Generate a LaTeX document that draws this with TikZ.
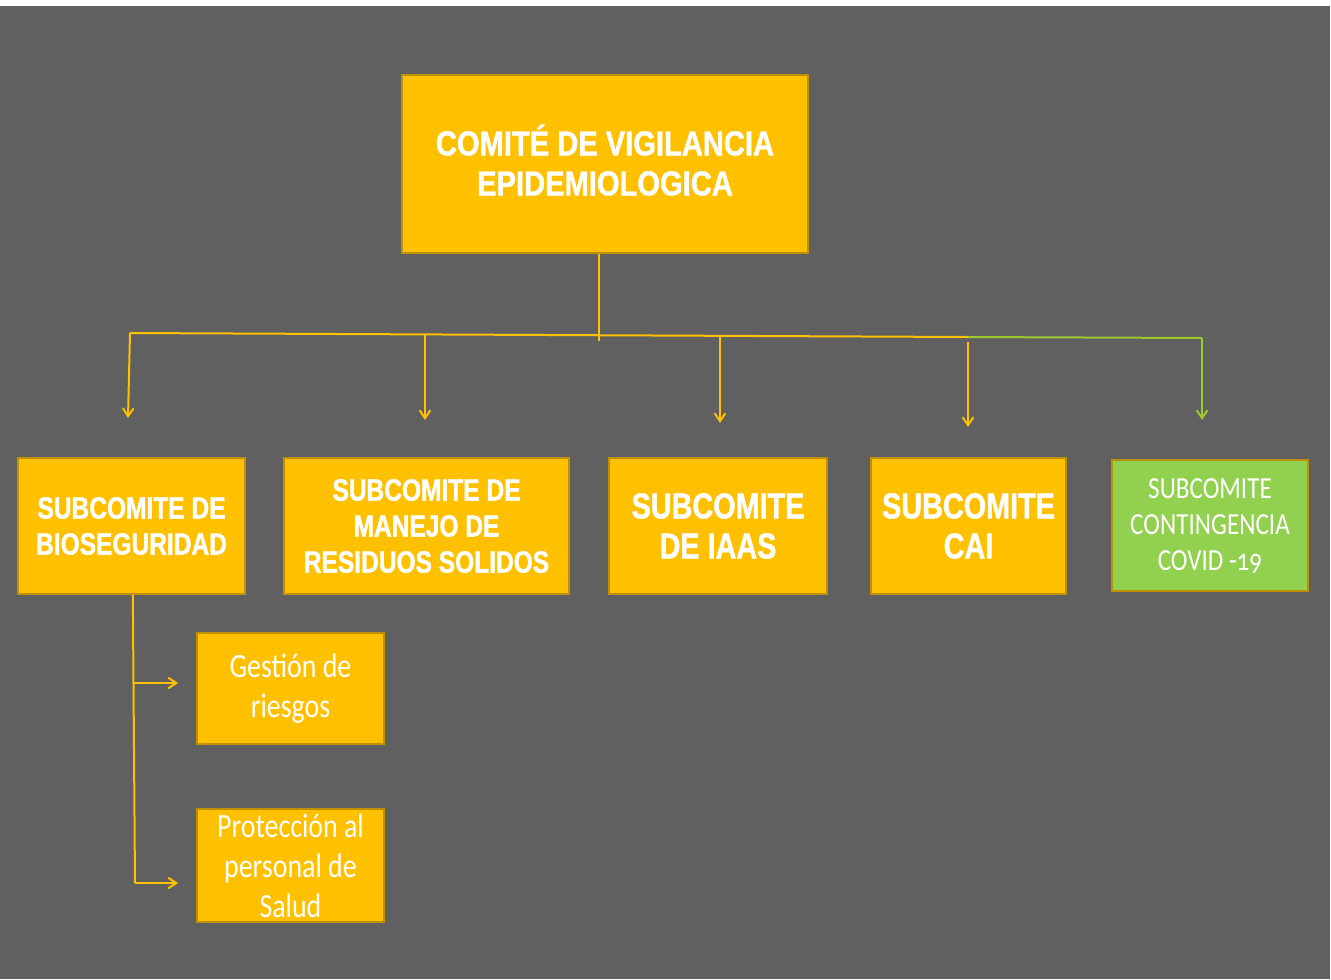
\documentclass[tikz,border=0pt]{standalone}
\usepackage{fontspec}
\usetikzlibrary{arrows.meta}
\newfontfamily\headfont[FakeStretch=0.84,BoldFeatures={FakeBold=1.2}]{Liberation Sans}
\newfontfamily\headfontn[FakeStretch=0.80,BoldFeatures={FakeBold=1.2}]{Liberation Sans}
\newfontfamily\lightfont[FakeStretch=0.82]{Carlito}
\newfontfamily\lightfontos[FakeStretch=0.82,Numbers=OldStyle]{Carlito}
\definecolor{bg}{HTML}{606060}
\definecolor{gold}{HTML}{FFC000}
\definecolor{goldedge}{HTML}{BF9000}
\definecolor{lgreen}{HTML}{92D050}
\definecolor{lineg}{HTML}{9BC92E}
\tikzset{
  box/.style={draw=goldedge, line width=1.1pt, fill=gold, text=white, align=center, inner sep=0pt},
  gbox/.style={box, fill=lgreen},
  conn/.style={gold, line width=1.5pt},
  gconn/.style={lineg, line width=1.5pt},
  arr/.style={-{Straight Barb[length=6pt,width=8pt,line width=1.5pt]}},
}
\begin{document}
\begin{tikzpicture}[x=0.75pt,y=-0.75pt]
\useasboundingbox (0,0) rectangle (1331,979);
\fill[white] (0,0) rectangle (1331,979);
\fill[bg] (0,6) rectangle (1330,979);

% nodes
\node[box, minimum width=304.5pt, minimum height=133.5pt,
      font={\headfont\bfseries\fontsize{26}{30}\selectfont}] (main) at (605,164)
      {COMITÉ DE VIGILANCIA\\EPIDEMIOLOGICA\\[-24pt]\mbox{}};
\node[box, minimum width=170.25pt, minimum height=102pt,
      font={\headfontn\bfseries\fontsize{23}{27}\selectfont}] (s1) at (131.5,526)
      {SUBCOMITE DE\\BIOSEGURIDAD};
\node[box, minimum width=213.75pt, minimum height=102pt,
      font={\headfontn\bfseries\fontsize{23}{27}\selectfont}] (s2) at (426.5,526)
      {SUBCOMITE DE\\MANEJO DE\\RESIDUOS SOLIDOS};
\node[box, minimum width=163.5pt, minimum height=102pt,
      font={\headfontn\bfseries\fontsize{27}{30}\selectfont}] (s3) at (718,526)
      {SUBCOMITE\\DE IAAS};
\node[box, minimum width=146.25pt, minimum height=102pt,
      font={\headfontn\bfseries\fontsize{27}{30}\selectfont}] (s4) at (968.5,526)
      {SUBCOMITE\\CAI};
\node[gbox, minimum width=147pt, minimum height=98.25pt,
      font={\lightfont\fontsize{23}{27}\selectfont}] (s5) at (1210,525.5)
      {SUBCOMITE\\CONTINGENCIA\\COVID {\lightfontos-19}};
\node[box, minimum width=140.25pt, minimum height=83.25pt,
      font={\lightfont\fontsize{25.5}{30}\selectfont}] (g1) at (290.5,688.5)
      {Gestión de\\riesgos};
\node[box, minimum width=140.25pt, minimum height=84.75pt,
      font={\lightfont\fontsize{25.5}{30}\selectfont}] (g2) at (290.5,865.5)
      {Protección al\\personal de\\Salud};

% junction coordinates
\coordinate (trunk) at (599,341);
\coordinate (h1) at (130,333);
\coordinate (h4) at (968,337);
\coordinate (h5) at (1202,338);
\coordinate (d1) at (128,418);
\coordinate (d2) at (425,420);
\coordinate (d3) at (720,423);
\coordinate (d4) at (968,427);
\coordinate (d5) at (1202,420);
\coordinate (b1) at (134,683);
\coordinate (b2) at (135,883);
\coordinate (e1) at (178,683);
\coordinate (e2) at (178,883);

% connectors
\draw[conn] ([xshift=-4.5pt]main.south) -- (trunk);
\draw[conn] (h1) -- (h4);
\draw[gconn] (h4) -- (h5);
\draw[conn,arr] (h1) -- (d1);
\draw[conn,arr] (425,335) -- (d2);
\draw[conn,arr] (720,336) -- (d3);
\draw[conn,arr] (968,342) -- (d4);
\draw[gconn,arr] (h5) -- (d5);
\draw[conn] ([xshift=1pt]s1.south) -- (b2);
\draw[conn,arr] (b1) -- (e1);
\draw[conn,arr] (b2) -- (e2);
\end{tikzpicture}
\end{document}
